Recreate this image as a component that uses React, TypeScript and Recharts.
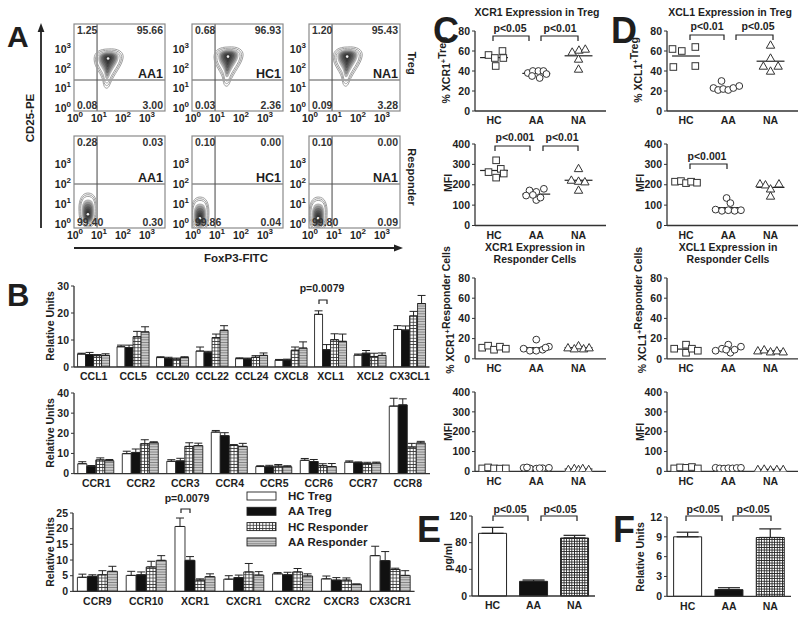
import React from 'react';
import {
  BarChart, Bar, XAxis, YAxis, ErrorBar, Cell,
  ScatterChart, Scatter, ReferenceLine,
} from 'recharts';

const FONT = '"Liberation Sans", Arial, Helvetica, sans-serif';
const INK = '#1e1e1e';
const AXIS = '#333';

// ---------- A: flow cytometry (log10 units) ----------
const flowSamples = ['AA1', 'HC1', 'NA1'];
const tregQuadrants = [['1.25', '95.66', '0.08', '3.00'], ['0.68', '96.93', '0.03', '2.36'], ['1.20', '95.43', '0.09', '3.28']];
const responderQuadrants = [['0.28', '0.03', '99.40', '0.30'], ['0.10', '0.00', '99.86', '0.04'], ['0.10', '0.00', '99.80', '0.09']];
const tregPeaks = [{ x: 1.38, y: 2.28 }, { x: 1.46, y: 2.38 }, { x: 1.55, y: 2.38 }];
const responderPeaks = [{ x: 0.54, y: 0.65 }, { x: 0.29, y: 0.45 }, { x: 0.34, y: 0.45 }];
const logDecades = [0, 1, 2, 3];
const foxp3Gate = 0.92;
const cd25GateTreg = 1.37;
const cd25GateResponder = 1.95;

// ---------- B: relative expression ----------
const seriesNames = ['HC Treg', 'AA Treg', 'HC Responder', 'AA Responder'];

const chemokines = ['CCL1', 'CCL5', 'CCL20', 'CCL22', 'CCL24', 'CXCL8', 'XCL1', 'XCL2', 'CX3CL1'];
const chemHcTreg = [4.8, 7.5, 3.5, 5.9, 3.1, 2.5, 19.5, 4.4, 13.9];
const chemAaTreg = [4.6, 7.2, 3.2, 5.3, 3.0, 2.6, 6.4, 5.1, 13.7];
const chemHcResp = [4.2, 11.2, 2.9, 10.9, 3.6, 6.2, 10.1, 3.9, 18.9];
const chemAaResp = [4.3, 13.0, 3.5, 13.6, 4.3, 7.0, 9.5, 4.3, 23.5];
const chemHcTregSem = [0.3, 0.6, 0.3, 1.5, 0.3, 0.3, 1.3, 0.4, 1.4];
const chemAaTregSem = [0.8, 0.9, 0.4, 0.5, 0.3, 0.3, 1.9, 1.0, 1.5];
const chemHcRespSem = [0.4, 2.0, 0.4, 1.3, 0.6, 1.2, 2.2, 1.2, 1.7];
const chemAaRespSem = [0.6, 1.9, 0.3, 1.7, 0.9, 2.3, 2.7, 0.9, 3.0];

const ccReceptors = ['CCR1', 'CCR2', 'CCR3', 'CCR4', 'CCR5', 'CCR6', 'CCR7', 'CCR8'];
const ccrHcTreg = [4.9, 9.9, 6.1, 20.6, 3.5, 6.6, 5.7, 33.5];
const ccrAaTreg = [3.6, 10.5, 6.3, 18.8, 3.4, 6.0, 5.4, 34.1];
const ccrHcResp = [6.8, 14.8, 13.5, 14.0, 3.7, 3.9, 4.9, 13.2];
const ccrAaResp = [6.4, 15.3, 13.9, 13.5, 3.4, 3.5, 5.2, 15.2];
const ccrHcTregSem = [1.0, 1.2, 0.8, 0.8, 0.4, 0.9, 0.6, 3.9];
const ccrAaTregSem = [0.4, 1.7, 1.3, 1.5, 0.7, 1.0, 0.4, 3.0];
const ccrHcRespSem = [1.0, 2.0, 1.8, 0.4, 0.8, 1.0, 0.7, 1.8];
const ccrAaRespSem = [0.6, 0.5, 1.2, 1.5, 0.5, 1.5, 0.5, 0.8];

const otherReceptors = ['CCR9', 'CCR10', 'XCR1', 'CXCR1', 'CXCR2', 'CXCR3', 'CX3CR1'];
const othHcTreg = [4.5, 5.1, 20.7, 3.9, 5.6, 4.0, 11.4];
const othAaTreg = [4.8, 5.3, 9.9, 4.4, 5.3, 3.6, 9.8];
const othHcResp = [5.3, 7.8, 3.6, 6.2, 6.2, 3.6, 7.0];
const othAaResp = [6.4, 9.9, 4.7, 5.2, 4.9, 2.3, 5.1];
const othHcTregSem = [1.0, 1.3, 2.7, 1.1, 0.4, 0.9, 3.0];
const othAaTregSem = [0.5, 0.9, 1.2, 0.8, 0.8, 0.8, 2.9];
const othHcRespSem = [1.3, 1.8, 0.4, 2.7, 1.1, 0.7, 0.4];
const othAaRespSem = [1.6, 1.5, 0.9, 1.1, 0.7, 0.0, 1.5];

// ---------- C / D: dot plots, [spread offset, value] per subject ----------
const dotGroups = ['HC', 'AA', 'NA'];

const xcr1TregPct = [
  [[-0.13, 56], [0.2, 60], [0.02, 53], [0.22, 53], [0.04, 45]],
  [[-0.2, 38], [-0.08, 40], [0.05, 40], [0.17, 40], [0.24, 37], [-0.1, 35], [0.08, 33]],
  [[-0.15, 59], [0.01, 61], [0.16, 62], [0, 52], [0, 42]],
];
const xcr1TregPctMean = [53.4, 37.6, 55.2];

const xcr1TregMfi = [
  [[0.05, 320], [-0.13, 262], [0.16, 278], [0.05, 235], [0.23, 255]],
  [[-0.16, 172], [0, 165], [0.18, 180], [-0.24, 147], [0, 125], [0.1, 137], [-0.08, 150]],
  [[0, 280], [-0.17, 223], [0, 218], [0.15, 215], [0, 174]],
];
const xcr1TregMfiMean = [270, 154, 222];

const xcr1RespPct = [
  [[-0.28, 11], [-0.14, 13], [0, 9], [0.14, 12], [0.28, 10]],
  [[0, 19], [-0.3, 10], [-0.15, 8], [0, 8], [0.15, 9], [0.3, 12], [0.22, 11]],
  [[-0.25, 11], [0, 13], [-0.1, 10], [0.12, 10], [0.25, 11]],
];
const xcr1RespPctMean = [11, 11, 11];

const xcr1RespMfi = [
  [[-0.28, 15], [-0.14, 20], [0, 15], [0.14, 14], [0.28, 15]],
  [[-0.3, 18], [-0.15, 15], [0, 14], [0.15, 16], [0.3, 18], [-0.22, 20], [0.08, 16]],
  [[-0.24, 10], [-0.1, 15], [0, 10], [0.1, 15], [0.24, 10]],
];
const xcr1RespMfiMean = [16, 17, 12];

const xcl1TregPct = [
  [[-0.32, 62], [-0.1, 60], [0.22, 64], [-0.3, 44], [0.22, 45]],
  [[-0.16, 30], [-0.35, 23], [-0.24, 21], [-0.12, 22], [0, 21], [0.12, 23], [0.26, 25]],
  [[0, 66], [0, 53], [-0.17, 45], [0.18, 45], [0, 40]],
];
const xcl1TregPctMean = [55, 23.6, 49.8];

const xcl1TregMfi = [
  [[-0.26, 215], [-0.12, 218], [0, 208], [0.12, 215], [0.26, 210]],
  [[-0.04, 135], [0.05, 110], [-0.3, 78], [-0.15, 72], [0, 75], [0.15, 72], [0.3, 75]],
  [[-0.25, 205], [-0.12, 200], [0.2, 205], [0, 180], [0, 145]],
];
const xcl1TregMfiMean = [213, 88, 187];

const xcl1RespPct = [
  [[-0.28, 10], [0, 14], [0, 6], [0.14, 10], [0.28, 8]],
  [[-0.3, 8], [-0.15, 10], [0, 14], [0.05, 6], [0.15, 9], [0.3, 12], [-0.05, 9]],
  [[-0.3, 8], [-0.15, 9], [0, 7], [0.15, 8], [0.3, 7]],
];
const xcl1RespPctMean = [9.6, 9.7, 7.8];

const xcl1RespMfi = [
  [[-0.28, 15], [-0.14, 20], [0, 18], [0.14, 22], [0.28, 15]],
  [[-0.3, 18], [-0.2, 15], [-0.1, 14], [0, 16], [0.1, 15], [0.2, 17], [0.3, 18]],
  [[-0.3, 10], [-0.15, 12], [0, 8], [0.15, 10], [0.3, 10]],
];
const xcl1RespMfiMean = [18, 16, 10];

const pctTicks = [0, 20, 40, 60, 80];
const mfiTicks = [0, 100, 200, 300, 400];

// ---------- E / F ----------
const xcl1Serum = [94, 22, 87];
const xcl1SerumSem = [9, 2, 4];
const xcl1Relative = [9.0, 1.0, 8.9];
const xcl1RelativeSem = [0.7, 0.3, 1.3];

// ---------- helpers ----------
const seriesKeys = ['hcT', 'aaT', 'hcR', 'aaR'];
const seriesFills = ['#ffffff', '#111111', 'url(#gridHatch)', 'url(#hLines)'];
const groupFills = ['#ffffff', '#111111', 'url(#fineGrid)'];

function buildRows(cats: string[], means: number[][], sems: number[][]) {
  return cats.map((name, i) => {
    const row: any = { name };
    seriesKeys.forEach((k, j) => {
      row[k] = means[j][i];
      row[k + 'E'] = [0, sems[j][i]];
    });
    return row;
  });
}

// place a chart so that its plot area lands on (x0,y0)-(x1,y1)
function frame(x0: number, y0: number, x1: number, y1: number, yw: number, xh: number) {
  const mt = 9;
  const mr = 4;
  return {
    style: { position: 'absolute' as const, left: x0 - yw, top: y0 - mt },
    width: yw + (x1 - x0) + mr,
    height: mt + (y1 - y0) + xh,
    margin: { top: mt, right: mr, bottom: 0, left: 0 },
  };
}

const tickFont = { fontSize: 10.5, fontWeight: 700, fill: INK, fontFamily: FONT };
const axisLine = { stroke: AXIS, strokeWidth: 1.3 };

const PowTickX = (p: any) => (
  <text x={p.x} y={p.y + 11} textAnchor="middle" fontSize={10.5} fontWeight={700} fill={INK} fontFamily={FONT}>
    10<tspan dy={-5} fontSize={8}>{p.payload.value}</tspan>
  </text>
);
const PowTickY = (p: any) => (
  <text x={p.x - 3} y={p.y + 5} textAnchor="end" fontSize={10.5} fontWeight={700} fill={INK} fontFamily={FONT}>
    10<tspan dy={-5} fontSize={8}>{p.payload.value}</tspan>
  </text>
);

const tregTear = 'M0,-13C10,-14 16,-10 15,-4C14,4 6,12 2,22C0,28 -4,28 -5,20C-6,12 -14,6 -14,-3C-14,-10 -8,-13 0,-13Z';
const respBlob = 'M0,-17C7,-17 9,-10 9,-2C9,8 8,17 0,17C-8,17 -9,8 -9,-2C-9,-10 -6,-17 0,-17Z';
const ringScales = [1, 0.9, 0.8];
const coreLevels: [number, string][] = [
  [0.7, '#b4b4b4'], [0.6, '#8e8e8e'], [0.5, '#6e6e6e'], [0.4, '#575757'], [0.3, '#454545'], [0.2, '#363636'],
];

function contour(path: string, coreShift: number) {
  return (p: any) => {
    if (p.cx == null) return <g />;
    return (
      <g transform={`translate(${p.cx},${p.cy})`}>
        {ringScales.map((s) => (
          <path key={s} d={path} transform={`scale(${s})`} fill="none" stroke="#a0a0a0" strokeWidth={1} vectorEffect="non-scaling-stroke" />
        ))}
        {coreLevels.map(([s, c]) => (
          <path key={s} d={path} transform={`translate(0,${coreShift * (1 - s)}) scale(${s})`} fill={c} stroke="none" />
        ))}
        <circle cy={coreShift * 0.85} r={1.3} fill="#f2f2f2" />
      </g>
    );
  };
}
const tregShape = contour(tregTear, -4);
const respShape = contour(respBlob, 5);

const flowCols = [74, 192, 309];
const FLOW_W = 91;
const flowRows = [
  { top: 24, bottom: 111, domain: [-0.2, 4.2] },
  { top: 136, bottom: 228, domain: [-0.25, 4.35] },
];

function FlowPlot({ col, row }: { col: number; row: number }) {
  const x0 = flowCols[col];
  const r = flowRows[row];
  const f = frame(x0, r.top, x0 + FLOW_W, r.bottom, 30, 16);
  const peak = row === 0 ? tregPeaks[col] : responderPeaks[col];
  return (
    <div style={f.style}>
      <ScatterChart width={f.width} height={f.height} margin={f.margin}>
        <XAxis type="number" dataKey="x" domain={[-0.04, 3.75]} ticks={logDecades} tick={PowTickX} interval={0}
          axisLine={false} tickLine={false} tickSize={0} tickMargin={0} height={16} allowDataOverflow />
        <YAxis type="number" dataKey="y" domain={r.domain} ticks={logDecades} tick={PowTickY} interval={0}
          axisLine={false} tickLine={false} tickSize={0} tickMargin={0} width={30} allowDataOverflow />
        <Scatter data={[peak]} shape={row === 0 ? tregShape : respShape} isAnimationActive={false} />
        <ReferenceLine x={foxp3Gate} stroke="#555" strokeWidth={1.1} />
        <ReferenceLine y={row === 0 ? cd25GateTreg : cd25GateResponder} stroke="#555" strokeWidth={1.1} />
      </ScatterChart>
    </div>
  );
}

function GroupedBars({ rows, box, domain, ticks, gap }: any) {
  const f = frame(box[0], box[1], box[2], box[3], 26, 18);
  return (
    <div style={f.style}>
      <BarChart width={f.width} height={f.height} margin={f.margin} data={rows} barCategoryGap={gap} barGap={0}>
        <XAxis dataKey="name" interval={0} tickLine={false} tickSize={4} axisLine={axisLine} tick={tickFont} height={18} />
        <YAxis domain={domain} ticks={ticks} interval={0} width={26} tickSize={3} tickLine={{ stroke: AXIS }} axisLine={axisLine}
          tick={tickFont} allowDataOverflow />
        {seriesKeys.map((k, j) => (
          <Bar key={k} dataKey={k} name={seriesNames[j]} fill={seriesFills[j]} stroke="#222" strokeWidth={0.9} isAnimationActive={false}>
            <ErrorBar dataKey={k + 'E'} width={4} stroke="#222" strokeWidth={1} direction="y" />
          </Bar>
        ))}
      </BarChart>
    </div>
  );
}

const squareMark = (p: any) => <rect x={p.cx - 3.3} y={p.cy - 3.3} width={6.6} height={6.6} fill="#fff" stroke="#333" strokeWidth={1} />;
const circleMark = (p: any) => <circle cx={p.cx} cy={p.cy} r={3.4} fill="#fff" stroke="#333" strokeWidth={1} />;
const triangleMark = (p: any) => (
  <path d={`M${p.cx},${p.cy - 4.2}L${p.cx + 4.2},${p.cy + 3.2}L${p.cx - 4.2},${p.cy + 3.2}Z`} fill="#fff" stroke="#333" strokeWidth={1} />
);
const groupMarks = [squareMark, circleMark, triangleMark];

function DotPlot({ box, points, means, ticks }: any) {
  const f = frame(box[0], box[1], box[2], box[3], 30, 18);
  return (
    <div style={f.style}>
      <ScatterChart width={f.width} height={f.height} margin={f.margin}>
        <XAxis type="number" dataKey="x" domain={[-0.45, 2.65]} ticks={[0, 1, 2]} tickFormatter={(v: number) => dotGroups[v]}
          interval={0} tickLine={false} tickSize={4} axisLine={axisLine} tick={tickFont} height={18} allowDataOverflow />
        <YAxis type="number" dataKey="y" domain={[ticks[0], ticks[ticks.length - 1]]} ticks={ticks} interval={0} width={30} tickSize={3}
          tickLine={{ stroke: AXIS }} axisLine={axisLine} tick={tickFont} allowDataOverflow />
        {means.map((m: number, g: number) => (
          <ReferenceLine key={'m' + g} segment={[{ x: g - 0.33, y: m }, { x: g + 0.33, y: m }]} stroke="#222" strokeWidth={1.2} />
        ))}
        {points.map((grp: number[][], g: number) => (
          <Scatter key={dotGroups[g]} data={grp.map(([o, v]) => ({ x: g + o, y: v }))} shape={groupMarks[g]} isAnimationActive={false} />
        ))}
      </ScatterChart>
    </div>
  );
}

function GroupBar({ values, sems, box, ticks, capWidth }: any) {
  const f = frame(box[0], box[1], box[2], box[3], 28, 18);
  const rows = dotGroups.map((name, i) => ({ name, v: values[i], e: [0, sems[i]] }));
  return (
    <div style={f.style}>
      <BarChart width={f.width} height={f.height} margin={f.margin} data={rows} barCategoryGap="16%">
        <XAxis dataKey="name" tickLine={false} tickSize={4} axisLine={axisLine} tick={tickFont} height={18} />
        <YAxis domain={[ticks[0], ticks[ticks.length - 1]]} ticks={ticks} interval={0} width={28} tickSize={3}
          tickLine={{ stroke: AXIS }} axisLine={axisLine} tick={tickFont} />
        <Bar dataKey="v" stroke="#222" strokeWidth={1} isAnimationActive={false}>
          {rows.map((r, i) => <Cell key={r.name} fill={groupFills[i]} />)}
          <ErrorBar dataKey="e" width={capWidth} stroke="#222" strokeWidth={1.2} direction="y" />
        </Bar>
      </BarChart>
    </div>
  );
}

// ---------- overlay annotations ----------
const T = (p: any) => <text fontFamily={FONT} fontWeight={700} fill={INK} {...p} />;
const VT = ({ x, y, rot = -90, size = 10.5, children }: any) => (
  <text transform={`translate(${x},${y}) rotate(${rot})`} textAnchor="middle" dy="0.35em" fontFamily={FONT}
    fontWeight={700} fontSize={size} fill={INK}>{children}</text>
);
const Bracket = ({ x1, x2, y, h = 5 }: any) => (
  <path d={`M${x1},${y + h}V${y}H${x2}V${y + h}`} fill="none" stroke="#222" strokeWidth={1.2} />
);
const Sup = ({ children }: any) => <><tspan dy={-4} fontSize={7.5}>{children}</tspan><tspan dy={4}>{''}</tspan></>;

function Overlay() {
  const flowBoxes = [0, 1].flatMap((r) => flowCols.map((c, i) => ({ r, c, i })));
  return (
    <svg width={800} height={617} style={{ position: 'absolute', left: 0, top: 0, pointerEvents: 'none' }}>
      <defs>
        <pattern id="gridHatch" width="3.2" height="3.2" patternUnits="userSpaceOnUse">
          <rect width="3.2" height="3.2" fill="#fff" />
          <path d="M0,0.4H3.2M0.4,0V3.2" stroke="#333" strokeWidth="0.9" />
        </pattern>
        <pattern id="hLines" width="4" height="2.6" patternUnits="userSpaceOnUse">
          <rect width="4" height="2.6" fill="#c8c8c8" />
          <path d="M0,0.4H4" stroke="#6e6e6e" strokeWidth="0.8" />
        </pattern>
        <pattern id="fineGrid" width="2.6" height="2.6" patternUnits="userSpaceOnUse">
          <rect width="2.6" height="2.6" fill="#fff" />
          <path d="M0,0.4H2.6M0.4,0V2.6" stroke="#222" strokeWidth="0.9" />
        </pattern>
      </defs>

      {/* panel letters */}
      <T x={7} y={47} fontSize={30}>A</T>
      <T x={7} y={306} fontSize={31}>B</T>
      <T x={433} y={43} fontSize={36}>C</T>
      <T x={611} y={43} fontSize={36}>D</T>
      <T x={417} y={542} fontSize={36}>E</T>
      <T x={613} y={542} fontSize={36}>F</T>

      {/* A: plot frames and labels */}
      {flowBoxes.map(({ r, c, i }) => {
        const top = flowRows[r].top;
        const bottom = flowRows[r].bottom;
        const q = r === 0 ? tregQuadrants[i] : responderQuadrants[i];
        const gateY = r === 0 ? 78 : 182;
        return (
          <g key={r + '-' + i}>
            <rect x={c} y={top} width={FLOW_W} height={bottom - top} fill="none" stroke="#8a8a8a" strokeWidth={1.2} />
            <T x={c + 3} y={top + 10} fontSize={10.5} fontWeight={600} fill="#333">{q[0]}</T>
            <T x={c + FLOW_W - 2} y={top + 10} fontSize={10.5} fontWeight={600} fill="#333" textAnchor="end">{q[1]}</T>
            <T x={c + 3} y={bottom - 2} fontSize={10.5} fontWeight={600} fill="#333">{q[2]}</T>
            <T x={c + FLOW_W - 2} y={bottom - 2} fontSize={10.5} fontWeight={600} fill="#333" textAnchor="end">{q[3]}</T>
            <T x={c + FLOW_W - 2} y={gateY} fontSize={12.5} textAnchor="end">{flowSamples[i]}</T>
          </g>
        );
      })}
      <line x1={41} y1={228} x2={41} y2={30} stroke="#222" strokeWidth={1.8} />
      <path d="M41,23L37.6,32L44.4,32Z" fill="#222" />
      <line x1={74} y1={248} x2={396} y2={248} stroke="#222" strokeWidth={1.8} />
      <path d="M403,248L394,244.6L394,251.4Z" fill="#222" />
      <VT x={30} y={118} size={11.5}>CD25-PE</VT>
      <T x={236} y={262} fontSize={11.5} textAnchor="middle">FoxP3-FITC</T>
      <VT x={412} y={63} rot={90} size={11}>Treg</VT>
      <VT x={412} y={177} rot={90} size={11}>Responder</VT>

      {/* B */}
      <VT x={50} y={326}>Relative Units</VT>
      <VT x={50} y={433}>Relative Units</VT>
      <VT x={50} y={552}>Relative Units</VT>
      <T x={322} y={292} fontSize={10.5} textAnchor="middle">p=0.0079</T>
      <Bracket x1={319} x2={327} y={300} h={4} />
      <T x={187} y={502} fontSize={10.5} textAnchor="middle">p=0.0079</T>
      <Bracket x1={181} x2={190} y={509} h={4} />
      {seriesNames.map((n, j) => (
        <g key={n}>
          <rect x={247} y={492 + j * 15.3} width={29} height={8} fill={seriesFills[j]} stroke="#222" strokeWidth={0.9} />
          <T x={288} y={500 + j * 15.3} fontSize={11.5}>{n}</T>
        </g>
      ))}

      {/* C */}
      <T x={537} y={16} fontSize={10.5} textAnchor="middle">XCR1 Expression in Treg</T>
      <VT x={446} y={70}>% XCR1<Sup>+</Sup>Treg</VT>
      <T x={510} y={32} fontSize={10.5} textAnchor="middle">p&lt;0.05</T>
      <Bracket x1={493} x2={529} y={36} />
      <T x={560} y={32} fontSize={10.5} textAnchor="middle">p&lt;0.01</T>
      <Bracket x1={541} x2={578} y={36} />
      <VT x={448} y={183}>MFI</VT>
      <T x={515} y={141} fontSize={10.5} textAnchor="middle">p&lt;0.001</T>
      <Bracket x1={495} x2={530} y={146} />
      <T x={562} y={141} fontSize={10.5} textAnchor="middle">p&lt;0.01</T>
      <Bracket x1={543} x2={578} y={146} />
      <T x={535} y={251} fontSize={10.5} textAnchor="middle">XCR1 Expression in</T>
      <T x={535} y={263} fontSize={10.5} textAnchor="middle">Responder Cells</T>
      <VT x={450} y={310}>% XCR1<Sup>+</Sup>Responder Cells</VT>
      <VT x={448} y={432}>MFI</VT>

      {/* D */}
      <T x={730} y={16} fontSize={10.5} textAnchor="middle">XCL1 Expression in Treg</T>
      <VT x={638} y={70}>% XCL1<Sup>+</Sup>Treg</VT>
      <T x={707} y={30} fontSize={10.5} textAnchor="middle">p&lt;0.01</T>
      <Bracket x1={690} x2={724} y={35} />
      <T x={758} y={30} fontSize={10.5} textAnchor="middle">p&lt;0.05</T>
      <Bracket x1={736} x2={773} y={35} />
      <VT x={640} y={183}>MFI</VT>
      <T x={707} y={160} fontSize={10.5} textAnchor="middle">p&lt;0.001</T>
      <Bracket x1={690} x2={727} y={164} />
      <T x={728} y={251} fontSize={10.5} textAnchor="middle">XCL1 Expression in</T>
      <T x={728} y={263} fontSize={10.5} textAnchor="middle">Responder Cells</T>
      <VT x={642} y={310}>% XCL1<Sup>+</Sup>Responder Cells</VT>
      <VT x={640} y={432}>MFI</VT>

      {/* E / F */}
      <VT x={448} y={557}>pg/ml</VT>
      <T x={510} y={513} fontSize={10.5} textAnchor="middle">p&lt;0.05</T>
      <Bracket x1={493} x2={528} y={516} />
      <T x={560} y={513} fontSize={10.5} textAnchor="middle">p&lt;0.05</T>
      <Bracket x1={541} x2={577} y={516} />
      <VT x={640} y={557}>Relative Units</VT>
      <T x={703} y={513} fontSize={10.5} textAnchor="middle">p&lt;0.05</T>
      <Bracket x1={686} x2={722} y={516} />
      <T x={753} y={513} fontSize={10.5} textAnchor="middle">p&lt;0.05</T>
      <Bracket x1={733} x2={771} y={516} />
    </svg>
  );
}

const chemRows = buildRows(chemokines, [chemHcTreg, chemAaTreg, chemHcResp, chemAaResp],
  [chemHcTregSem, chemAaTregSem, chemHcRespSem, chemAaRespSem]);
const ccrRows = buildRows(ccReceptors, [ccrHcTreg, ccrAaTreg, ccrHcResp, ccrAaResp],
  [ccrHcTregSem, ccrAaTregSem, ccrHcRespSem, ccrAaRespSem]);
const othRows = buildRows(otherReceptors, [othHcTreg, othAaTreg, othHcResp, othAaResp],
  [othHcTregSem, othAaTregSem, othHcRespSem, othAaRespSem]);

export default function App() {
  const cX = [475, 606];
  const dX = [667, 798];
  const r1 = [30.7, 110.7];
  const r2 = [144, 225.5];
  const r3 = [277.5, 358.3];
  const r4 = [392.3, 471.7];
  return (
    <div style={{ position: 'absolute', left: 0, top: 0, width: 800, height: 617, overflow: 'hidden', background: '#fff', fontFamily: FONT }}>
      {[0, 1].map((row) => [0, 1, 2].map((col) => <FlowPlot key={row + '-' + col} row={row} col={col} />))}

      <GroupedBars rows={chemRows} box={[74, 286, 429.5, 367]} domain={[0, 30]} ticks={[0, 10, 20, 30]} gap="9%" />
      <GroupedBars rows={ccrRows} box={[74, 392.7, 430, 473.3]} domain={[0, 40]} ticks={[0, 10, 20, 30, 40]} gap="8.5%" />
      <GroupedBars rows={othRows} box={[73, 513.3, 414.6, 591.7]} domain={[0, 25]} ticks={[0, 5, 10, 15, 20, 25]} gap="9%" />

      <DotPlot box={[cX[0], r1[0], cX[1], r1[1]]} points={xcr1TregPct} means={xcr1TregPctMean} ticks={pctTicks} />
      <DotPlot box={[cX[0], r2[0], cX[1], r2[1]]} points={xcr1TregMfi} means={xcr1TregMfiMean} ticks={mfiTicks} />
      <DotPlot box={[cX[0], r3[0], cX[1], r3[1]]} points={xcr1RespPct} means={xcr1RespPctMean} ticks={pctTicks} />
      <DotPlot box={[cX[0], r4[0], cX[1], r4[1]]} points={xcr1RespMfi} means={xcr1RespMfiMean} ticks={mfiTicks} />

      <DotPlot box={[dX[0], r1[0], dX[1], r1[1]]} points={xcl1TregPct} means={xcl1TregPctMean} ticks={pctTicks} />
      <DotPlot box={[dX[0], r2[0], dX[1], r2[1]]} points={xcl1TregMfi} means={xcl1TregMfiMean} ticks={mfiTicks} />
      <DotPlot box={[dX[0], r3[0], dX[1], r3[1]]} points={xcl1RespPct} means={xcl1RespPctMean} ticks={pctTicks} />
      <DotPlot box={[dX[0], r4[0], dX[1], r4[1]]} points={xcl1RespMfi} means={xcl1RespMfiMean} ticks={mfiTicks} />

      <GroupBar values={xcl1Serum} sems={xcl1SerumSem} box={[472, 516, 595, 596]} ticks={[0, 40, 80, 120]} capWidth={11} />
      <GroupBar values={xcl1Relative} sems={xcl1RelativeSem} box={[667, 516.7, 791, 596]} ticks={[0, 3, 6, 9, 12]} capWidth={11} />

      <Overlay />
    </div>
  );
}
